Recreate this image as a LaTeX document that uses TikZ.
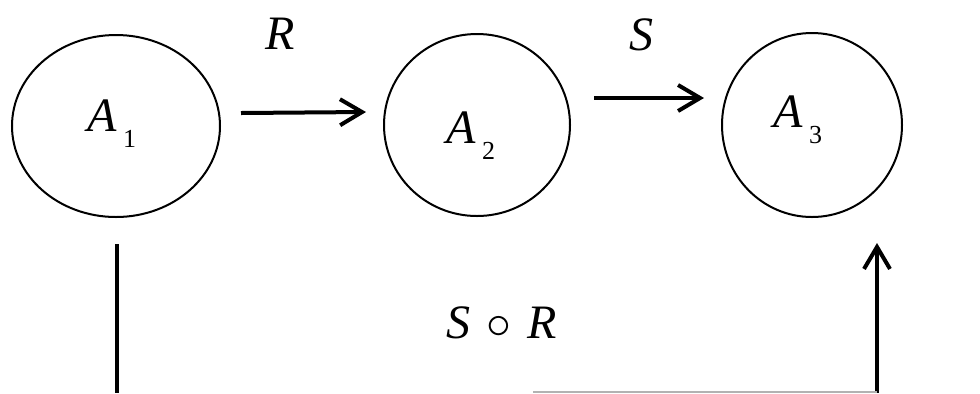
\documentclass[tikz,border=0pt]{standalone}
\usepackage{fontspec}
\setmainfont{Liberation Serif}
\usetikzlibrary{shapes.geometric,arrows.meta}
\tikzset{
  setnode/.style={draw,ellipse,line width=1pt,inner sep=0pt},
  lbl/.style={inner sep=0pt,font=\fontsize{24}{24}\selectfont\itshape},
  arr/.style={line width=2pt,-{Straight Barb[length=11pt,width=13pt,line width=2pt]}},
  bar/.style={line width=1.8pt},
}
\newcommand{\setlbl}[1]{A\hspace{3pt}\raisebox{-8pt}{\fontsize{13}{13}\selectfont\upshape #1}}
\begin{document}
\begin{tikzpicture}[x=0.5pt,y=-0.5pt]
\useasboundingbox (0,0) rectangle (980,393);
\node[setnode,minimum width=104pt,minimum height=91pt] (A1) at (116,126) {};
\node[setnode,minimum width=93pt,minimum height=91pt] (A2) at (477,125) {};
\node[setnode,minimum width=90pt,minimum height=92pt] (A3) at (812,125) {};
\node[lbl] (L1) at (112,124) {\setlbl{1}};
\node[lbl] (L2) at (471,136) {\setlbl{2}};
\node[lbl] (L3) at (798,120) {\setlbl{3}};
\node[lbl] (R) at (280,34) {R};
\node[lbl] (S) at (641,35) {S};
\node[lbl] (SR) at (502,323) {S\,\,$\circ$\,\,R};
\coordinate (bl) at (117,393);
\coordinate (br) at (877,393);
\coordinate (gl) at (533,392);
\draw[arr] ([shift={(20,-13)}]A1.east) -- ([shift={(-17,-13)}]A2.west);
\draw[arr] ([shift={(23,-27)}]A2.east) -- ([shift={(-17,-27)}]A3.west);
\draw[bar] ([shift={(1,26)}]A1.south) -- (bl);
\draw[arr] (br) -- ([shift={(65,25)}]A3.south);
\draw[gray!60,line width=0.6pt] (gl) -- ([yshift=0.5pt]br);
\end{tikzpicture}
\end{document}
